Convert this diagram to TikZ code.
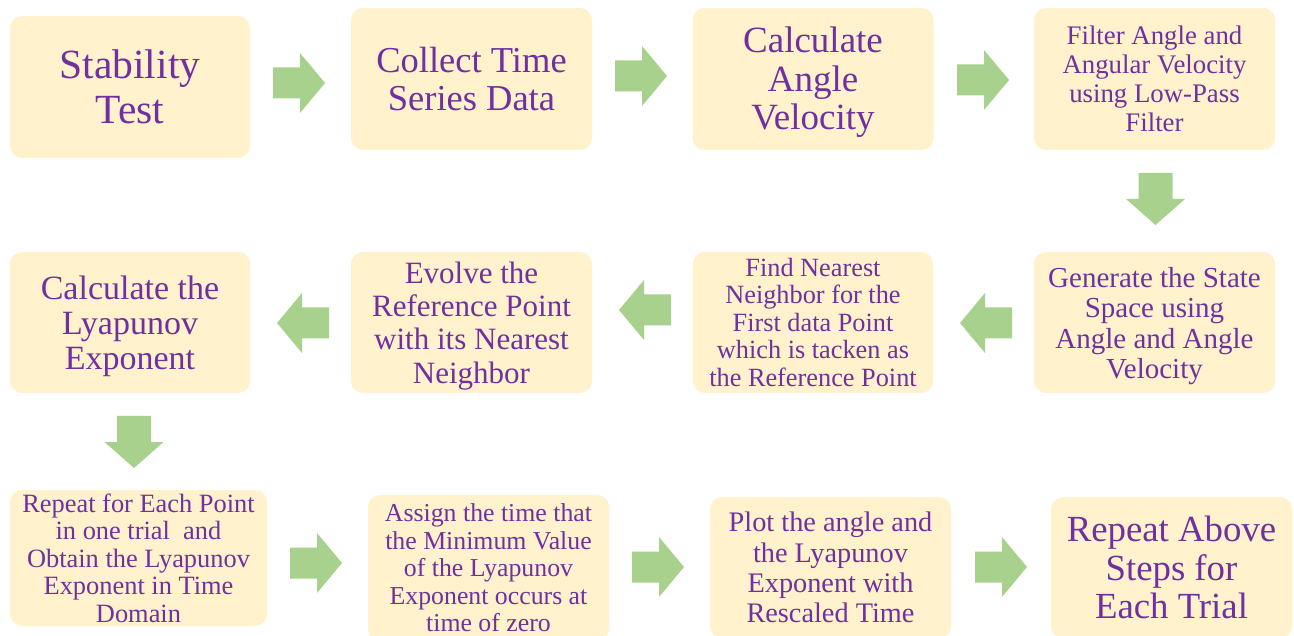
\documentclass[tikz,border=0pt]{standalone}
\usepackage{fontspec}
\setmainfont{Liberation Serif}
\definecolor{boxfill}{HTML}{FFF2CC}
\definecolor{boxtext}{HTML}{7030A0}
\definecolor{arrowfill}{HTML}{A9D18E}
\newcommand\fs[2]{\fontsize{#1}{#2}\selectfont}
\newcommand\topstrut[1]{\rule{0pt}{#1}}
% block arrows: (x,y) is the centre of the tail end
\newcommand\myRarrow[2]{\fill[arrowfill] (#1,#2) ++(0,-15.5) -- ++(27,0) -- ++(0,-14.5) -- ++(25,30) -- ++(-25,30) -- ++(0,-14.5) -- ++(-27,0) -- cycle;}
\newcommand\myLarrow[2]{\fill[arrowfill] (#1,#2) ++(0,-15.5) -- ++(-27,0) -- ++(0,-14.5) -- ++(-25,30) -- ++(25,30) -- ++(0,-14.5) -- ++(27,0) -- cycle;}
\newcommand\myDarrow[2]{\fill[arrowfill] (#1,#2) ++(-17,0) -- ++(0,26) -- ++(-12.5,0) -- ++(29.5,26) -- ++(29.5,-26) -- ++(-12.5,0) -- ++(0,-26) -- cycle;}
\begin{document}
\begin{tikzpicture}[x=1pt,y=-1pt,
  stepbox/.style={fill=boxfill, rounded corners=12pt, text=boxtext, align=center,
    inner sep=0pt, minimum width=241pt, minimum height=142pt}]
\useasboundingbox (0,0) rectangle (1294,636);
\fill[white] (0,0) rectangle (1294,636);
% row 1
\node[stepbox, minimum width=240pt, font=\fs{41.5}{45}] (b1) at (130,87) {Stability\\Test};
\node[stepbox, font=\fs{36.5}{38}] (b2) at (471.5,79) {Collect Time\\Series Data};
\node[stepbox, font=\fs{37}{38.5}] (b3) at (813,79) {\topstrut{32.5pt}Calculate\\Angle\\Velocity};
\node[stepbox, font=\fs{26.8}{29}] (b4) at (1154.5,79) {Filter Angle and\\Angular Velocity\\using Low-Pass\\Filter};
% row 2
\node[stepbox, minimum height=141pt, font=\fs{29}{30.3}] (b5) at (1154.5,322.5) {\topstrut{27pt}Generate the State\\Space using\\Angle and Angle\\Velocity};
\node[stepbox, minimum height=141pt, minimum width=240pt, font=\fs{26.3}{27.5}] (b6) at (813,322.5) {Find Nearest\\Neighbor for the\\First data Point\\which is tacken as\\the Reference Point};
\node[stepbox, minimum height=141pt, font=\fs{31}{33.4}] (b7) at (471.5,322.5) {\topstrut{28pt}Evolve the\\Reference Point\\with its Nearest\\Neighbor};
\node[stepbox, minimum height=141pt, minimum width=240pt, font=\fs{34}{35}] (b8) at (130,322.5) {\topstrut{30.5pt}Calculate the\\Lyapunov\\Exponent};
% row 3
\node[stepbox, minimum width=257pt, minimum height=136pt, font=\fs{26.4}{27.5}] (b9) at (138.5,558) {Repeat for Each Point\\in one trial~ and\\Obtain the Lyapunov\\Exponent in Time\\Domain};
\node[stepbox, minimum height=146pt, font=\fs{25.8}{27.5}] (b10) at (488.5,568) {Assign the time that\\the Minimum Value\\of the Lyapunov\\Exponent occurs at\\time of zero};
\node[stepbox, minimum height=141pt, font=\fs{28.3}{30.3}] (b11) at (830.5,567.5) {Plot the angle and\\the Lyapunov\\Exponent with\\Rescaled Time};
\node[stepbox, minimum height=141pt, font=\fs{36.8}{38.5}] (b12) at (1171.5,567.5) {Repeat Above\\Steps for\\Each Trial};
% arrows
\myRarrow{273}{83}
\myRarrow{615}{76}
\myRarrow{957}{80}
\myDarrow{1155.5}{173}
\myLarrow{1012}{323}
\myLarrow{671}{310}
\myLarrow{329}{323}
\myDarrow{134}{416}
\myRarrow{290}{563}
\myRarrow{632}{567}
\myRarrow{975}{567}
\end{tikzpicture}
\end{document}
